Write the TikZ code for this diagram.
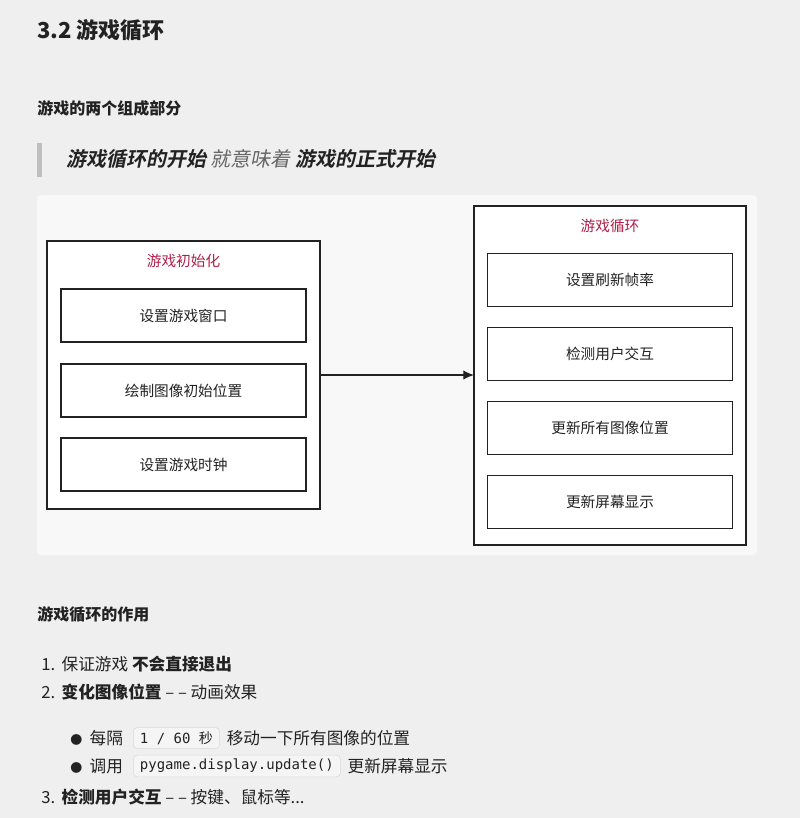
\documentclass[tikz,border=0pt]{standalone}
\usepackage{fontspec}
\usetikzlibrary{arrows.meta}
\setmainfont{Noto Sans CJK SC}[AutoFakeSlant=0.2]
\setmonofont{DejaVu Sans Mono}
\newfontfamily\cjkmono{Noto Sans CJK SC}
\newfontfamily\bislant{Noto Sans CJK SC Bold}[FakeSlant=0.2]
\newfontfamily\islant{Noto Sans CJK SC}[FakeSlant=0.2]
\definecolor{bg}{HTML}{EFEFEF}
\definecolor{panel}{HTML}{F8F8F8}
\definecolor{ttl}{HTML}{B0204A}
\definecolor{txt}{HTML}{222222}
\begin{document}
\begin{tikzpicture}[x=0.75pt,y=-0.75pt,
  box/.style={draw=txt,line width=0.9pt,fill=white,minimum width=245*0.75pt,minimum height=53*0.75pt,font=\fontsize{11}{12}\selectfont,text=txt},
  outer/.style={draw=txt,line width=0.9pt,fill=white},
  boxtitle/.style={font=\fontsize{11}{12}\selectfont,text=ttl},
  t/.style={anchor=west,inner sep=0pt,text=txt,font=\fontsize{12.5}{14}\selectfont},
  code/.style={draw=black!15,fill=black!4,rounded corners=3pt,inner xsep=5pt,inner ysep=3pt,font=\ttfamily\fontsize{10.5}{12}\selectfont,text=txt,anchor=west}]
\fill[bg] (0,0) rectangle (800,818);
\useasboundingbox (0,0) rectangle (800,818);
\node[t,font=\bfseries\fontsize{16.5}{18}\selectfont] (h1) at (37,30) {3.2 游戏循环};
\node[t,font=\bfseries\fontsize{12}{14}\selectfont] (h2) at (37,108) {游戏的两个组成部分};
\fill[black!25] (37,143) rectangle (42,177);
\node[t,font=\fontsize{15}{18}\selectfont] (q) at (66,159) {{\bislant 游戏循环的开始} \textcolor{black!60}{\islant 就意味着} {\bislant 游戏的正式开始}};
\fill[panel,rounded corners=3pt] (37,195) rectangle (757,555);
\draw[outer] (47,241) rectangle (320,509);
\node[boxtitle] (lt) at (183.5,261) {游戏初始化};
\node[box] (l1) at (183.5,315.5) {设置游戏窗口};
\node[box] (l2) at (183.5,390.5) {绘制图像初始位置};
\node[box] (l3) at (183.5,464.5) {设置游戏时钟};
\draw[outer] (474,206) rectangle (746,545);
\node[boxtitle] (rt) at (610,226) {游戏循环};
\node[box] (r1) at (610,280) {设置刷新帧率};
\node[box] (r2) at (610,354) {检测用户交互};
\node[box] (r3) at (610,428) {更新所有图像位置};
\node[box] (r4) at (610,502) {更新屏幕显示};
\coordinate (a1) at (320,375);
\coordinate (a2) at (474,375);
\draw[txt,line width=0.9pt,-{Latex[length=8pt,width=7pt]}] (a1) -- (a2);
\node[t,font=\bfseries\fontsize{12}{14}\selectfont] (h3) at (37,614) {游戏循环的作用};
\node[t] (n1) at (41,664) {1.\ \,保证游戏 \textbf{不会直接退出}};
\node[t] (n2) at (41,692) {2.\ \,\textbf{变化图像位置} – – 动画效果};
\node[t] (b1) at (70,738) {{\fontsize{9}{10}\selectfont ●}\ \ 每隔};
\node[code] (c1) at (133,738) {1 / 60 {\cjkmono 秒}};
\node[t,anchor=west] (b1b) at ([xshift=5pt]c1.east) {移动一下所有图像的位置};
\node[t] (b2) at (70,766) {{\fontsize{9}{10}\selectfont ●}\ \ 调用};
\node[code] (c2) at (133,766) {pygame.display.update()};
\node[t,anchor=west] (b2b) at ([xshift=5pt]c2.east) {更新屏幕显示};
\node[t] (n3) at (41,797) {3.\ \,\textbf{检测用户交互} – – 按键、鼠标等...};
\end{tikzpicture}
\end{document}
